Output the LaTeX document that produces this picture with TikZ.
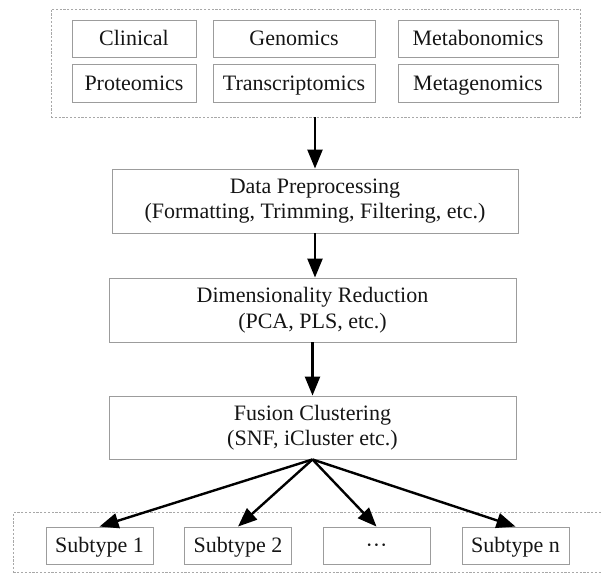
\documentclass[tikz,border=0pt]{standalone}
\usepackage{fontspec}
\setmainfont{Liberation Serif}
\usetikzlibrary{arrows.meta}
\definecolor{boxgray}{HTML}{9C9C9C}
\definecolor{dashgray}{HTML}{A8A8A8}
\definecolor{txt}{HTML}{151515}
\begin{document}
\begin{tikzpicture}[x=1pt,y=-1pt,
  base/.style={draw=boxgray, line width=0.9pt, inner sep=0pt, text=txt,
    font=\fontsize{22}{25.5}\selectfont, align=center},
  box/.style={base, text height=16pt, text depth=2pt},
  proc/.style={base, minimum width=407pt, minimum height=64pt},
  grp/.style={draw=dashgray, dash pattern=on 2.2pt off 1.6pt, line width=0.8pt, inner sep=0pt},
  arr/.style={-{Triangle[length=19pt,width=15pt]}, line width=2.4pt, black}]
\useasboundingbox (0,0) rectangle (602,573);
% groups
\node[grp, minimum width=529pt, minimum height=108pt] (src) at (315.5,63) {};
\node[grp, minimum width=602pt, minimum height=60pt, anchor=north west] (out) at (13,512) {};
% source boxes
\node[box, minimum width=124pt, minimum height=37pt] (clin) at (134,38.5) {Clinical};
\node[box, minimum width=162pt, minimum height=37pt] (gen) at (294,38.5) {Genomics};
\node[box, minimum width=160pt, minimum height=37pt] (metab) at (478,38.5) {Metabonomics};
\node[box, minimum width=124pt, minimum height=38pt] (prot) at (134,83) {Proteomics};
\node[box, minimum width=162pt, minimum height=38pt] (trans) at (294,83) {Transcriptomics};
\node[box, minimum width=160pt, minimum height=38pt] (metag) at (478,83) {Metagenomics};
% process boxes
\node[proc, minimum width=406pt] (dp) at (315,201) {Data Preprocessing\\(Formatting, Trimming, Filtering, etc.)};
\node[proc] (dim) at (312.5,310) {Dimensionality Reduction\\(PCA, PLS, etc.)};
\node[proc, minimum height=63pt] (fus) at (312.5,427.5) {Fusion Clustering\\(SNF, iCluster etc.)};
% subtypes
\node[box, minimum width=107pt, minimum height=37pt] (s1) at (99.5,545.5) {Subtype 1};
\node[box, minimum width=107pt, minimum height=37pt] (s2) at (238,545.5) {Subtype 2};
\node[box, minimum width=107pt, minimum height=37pt] (s3) at (376.5,545.5) {···};
\node[box, minimum width=107pt, minimum height=37pt] (sn) at (515.5,545.5) {Subtype n};
% arrows
\draw[arr] (src.south -| dp.north) -- (dp.north);
\draw[arr] (dp.south) -- (dp.south |- dim.north);
\draw[arr] (fus.north |- dim.south) -- (fus.north);
\draw[arr] (fus.south) -- (s1.north);
\draw[arr] (fus.south) -- (s2.north);
\draw[arr] (fus.south) -- (s3.north);
\draw[arr] (fus.south) -- (sn.north);
\end{tikzpicture}
\end{document}
